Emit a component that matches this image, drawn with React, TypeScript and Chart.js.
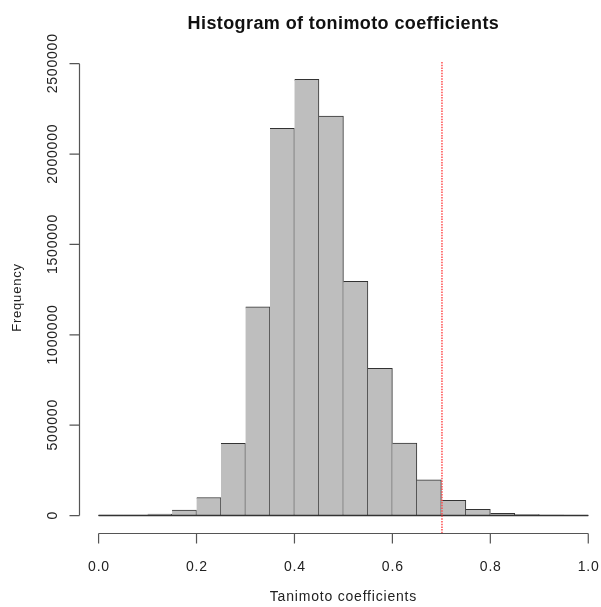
import React, { useEffect, useRef } from "react";
import { Chart, registerables } from "chart.js";

Chart.register(...registerables);

const chartTitle = "Histogram of tonimoto coefficients";
const xTitle = "Tanimoto coefficients";
const yTitle = "Frequency";

const binStarts = [0, 0.05, 0.1, 0.15, 0.2, 0.25, 0.3, 0.35, 0.4, 0.45, 0.5, 0.55, 0.6, 0.65, 0.7, 0.75, 0.8, 0.85, 0.9, 0.95];
const binWidth = 0.05;
const counts = [2000, 3000, 8000, 30000, 100000, 400000, 1155000, 2142000, 2413000, 2210000, 1296000, 814000, 401000, 197000, 84000, 35000, 13000, 6000, 2000, 1000];

const xTicks = [0, 0.2, 0.4, 0.6, 0.8, 1.0];
const xTickLabels = ["0.0", "0.2", "0.4", "0.6", "0.8", "1.0"];
const yTicks = [0, 500000, 1000000, 1500000, 2000000, 2500000];
const yTickLabels = ["0", "500000", "1000000", "1500000", "2000000", "2500000"];

const cutoff = 0.7;

const xMin = -0.04;
const xMax = 1.026;

const FONT = "'Liberation Sans', Arial, Helvetica, sans-serif";

export default function App() {
  const ref = useRef<HTMLCanvasElement | null>(null);

  useEffect(() => {
    if (!ref.current) return;
    const yMaxData = Math.max(...counts);
    const ext = 0.04 * yMaxData;

    const rPlugin = {
      id: "rstyle",
      afterDatasetsDraw(chart: any) {
        const { ctx } = chart;
        const xs = chart.scales.x;
        const ys = chart.scales.y;
        // near-zero bins: R draws them as a thick dark line at the baseline
        ctx.save();
        ctx.strokeStyle = "#333";
        ctx.lineWidth = 1.6;
        ctx.beginPath();
        const yb = ys.getPixelForValue(0);
        binStarts.forEach((s) => {
          ctx.moveTo(xs.getPixelForValue(s), yb);
          ctx.lineTo(xs.getPixelForValue(s + binWidth), yb);
        });
        ctx.stroke();
        ctx.restore();
      },
      afterDraw(chart: any) {
        const { ctx, chartArea } = chart;
        const xs = chart.scales.x;
        const ys = chart.scales.y;

        // red dotted cutoff line
        ctx.save();
        const px = xs.getPixelForValue(cutoff) + 0.6;
        ctx.strokeStyle = "rgba(255,70,70,0.9)";
        ctx.lineWidth = 1.6;
        ctx.setLineDash([1.5, 1.2]);
        ctx.beginPath();
        ctx.moveTo(px, chartArea.top);
        ctx.lineTo(px, chartArea.bottom);
        ctx.stroke();
        ctx.restore();

        ctx.save();
        ctx.strokeStyle = "#555";
        ctx.lineWidth = 1.2;
        ctx.fillStyle = "#222";
        (ctx as any).letterSpacing = "0.8px";

        // x axis
        const axY = chartArea.bottom + 0.5;
        const x0 = xs.getPixelForValue(xTicks[0]);
        const x1 = xs.getPixelForValue(xTicks[xTicks.length - 1]);
        ctx.beginPath();
        ctx.moveTo(x0, axY);
        ctx.lineTo(x1, axY);
        xTicks.forEach((t) => {
          const p = xs.getPixelForValue(t);
          ctx.moveTo(p, axY);
          ctx.lineTo(p, axY + 10);
        });
        ctx.stroke();
        ctx.font = `14px ${FONT}`;
        ctx.textAlign = "center";
        ctx.textBaseline = "middle";
        xTicks.forEach((t, i) => {
          ctx.fillText(xTickLabels[i], xs.getPixelForValue(t) + 0.4, 567);
        });

        // y axis
        const axX = chartArea.left + 0.5;
        const y0 = ys.getPixelForValue(yTicks[0]);
        const y1 = ys.getPixelForValue(yTicks[yTicks.length - 1]);
        ctx.beginPath();
        ctx.moveTo(axX, y0);
        ctx.lineTo(axX, y1);
        yTicks.forEach((t) => {
          const p = ys.getPixelForValue(t);
          ctx.moveTo(axX, p);
          ctx.lineTo(axX - 10, p);
        });
        ctx.stroke();
        yTicks.forEach((t, i) => {
          const p = ys.getPixelForValue(t);
          ctx.save();
          ctx.translate(53, p - 0.4);
          ctx.rotate(-Math.PI / 2);
          ctx.fillText(yTickLabels[i], 0, 0);
          ctx.restore();
        });

        // axis titles
        const cx = (xs.getPixelForValue(xMin) + xs.getPixelForValue(1.04)) / 2;
        ctx.fillText(xTitle, cx, 597);
        ctx.save();
        ctx.translate(17, (chartArea.top + chartArea.bottom) / 2);
        ctx.rotate(-Math.PI / 2);
        ctx.font = `13px ${FONT}`;
        ctx.fillText(yTitle, 0, 0);
        ctx.restore();

        // main title
        ctx.font = `bold 18px ${FONT}`;
        (ctx as any).letterSpacing = "0.4px";
        ctx.fillStyle = "#111";
        ctx.fillText(chartTitle, cx, 24);
        ctx.restore();
      },
    };

    const chart = new Chart(ref.current, {
      type: "bar",
      data: {
        datasets: [
          {
            data: binStarts.map((s, i) => ({ x: s + binWidth / 2, y: counts[i] })),
            backgroundColor: "#bebebe",
            borderColor: "#333",
            borderWidth: (c: any) => ({ top: 1, right: 1, bottom: 1, left: c.dataIndex === 0 ? 1 : 0 }),
            borderSkipped: false,
            barPercentage: 1,
            categoryPercentage: 1,
          } as any,
        ],
      },
      options: {
        animation: false,
        responsive: false,
        maintainAspectRatio: false,
        events: [],
        layout: { padding: { left: 79, right: 0, top: 62, bottom: 74 } },
        plugins: { legend: { display: false }, tooltip: { enabled: false }, title: { display: false } },
        scales: {
          x: { type: "linear", min: xMin, max: xMax, offset: false, display: false },
          y: { type: "linear", min: -ext, max: yMaxData + ext, display: false },
        },
      },
      plugins: [rPlugin],
    });
    return () => chart.destroy();
  }, []);

  return (
    <div style={{ position: "fixed", left: 0, top: 0, width: 601, height: 607, background: "#fff" }}>
      <canvas ref={ref} width={601} height={607} style={{ width: 601, height: 607, display: "block" }} />
    </div>
  );
}
